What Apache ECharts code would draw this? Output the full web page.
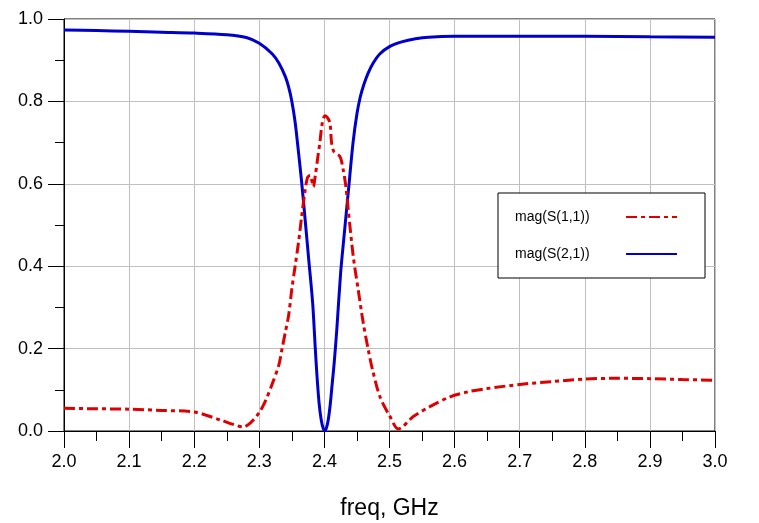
<!DOCTYPE html>
<html>
<head>
<meta charset="utf-8">
<script src="https://cdn.jsdelivr.net/npm/echarts@6/dist/echarts.min.js"></script>
<style>html,body{margin:0;padding:0;background:#fff;}#c{width:759px;height:523px;}</style>
</head>
<body>
<div id="c"></div>
<script>
const xTicks = ['2.0','2.1','2.2','2.3','2.4','2.5','2.6','2.7','2.8','2.9','3.0'];
const yTicks = ['0.0','0.2','0.4','0.6','0.8','1.0'];

const s11Freq = [2.00,2.05,2.10,2.15,2.20,2.24,2.26,2.275,2.286,2.30,2.31,2.32,2.33,2.335,2.34,2.345,2.35,2.355,2.36,2.365,2.370,2.374,2.378,2.383,2.386,2.390,2.393,2.397,2.401,2.405,2.4086,2.411,2.4147,2.424,2.429,2.433,2.4367,2.4444,2.452,2.4598,2.4674,2.474,2.4854,2.5008,2.5136,2.5366,2.562,2.593,2.62,2.65,2.70,2.75,2.80,2.85,2.90,2.95,3.00];
const s11Mag  = [0.055,0.054,0.053,0.050,0.046,0.027,0.016,0.010,0.019,0.045,0.075,0.115,0.16,0.20,0.24,0.28,0.345,0.40,0.455,0.52,0.58,0.615,0.620,0.593,0.62,0.666,0.70,0.75,0.765,0.76,0.747,0.70,0.678,0.666,0.633,0.593,0.536,0.423,0.342,0.261,0.197,0.148,0.083,0.035,0.005,0.035,0.059,0.083,0.095,0.103,0.113,0.120,0.126,0.128,0.127,0.125,0.123];

const s21Freq = [2.00,2.05,2.10,2.15,2.20,2.25,2.28,2.30,2.32,2.33,2.34,2.345,2.35,2.355,2.36,2.365,2.37,2.376,2.382,2.386,2.389,2.392,2.395,2.398,2.4005,2.403,2.406,2.409,2.412,2.415,2.419,2.425,2.43,2.437,2.444,2.45,2.455,2.46,2.467,2.475,2.485,2.50,2.52,2.54,2.56,2.60,2.70,2.80,2.90,3.00];
const s21Mag  = [0.973,0.972,0.970,0.968,0.966,0.962,0.955,0.941,0.915,0.893,0.86,0.835,0.80,0.75,0.68,0.605,0.52,0.415,0.31,0.20,0.125,0.065,0.028,0.007,0.0,0.007,0.028,0.065,0.115,0.165,0.245,0.385,0.47,0.585,0.70,0.77,0.81,0.838,0.868,0.893,0.915,0.933,0.945,0.952,0.956,0.958,0.958,0.958,0.957,0.956];

const zip = (a, b) => a.map((x, i) => [x, b[i]]);
const FONT = 'Liberation Sans, Arial, sans-serif';

const chart = echarts.init(document.getElementById('c'));
chart.setOption({
  animation: false,
  backgroundColor: '#fff',
  grid: { left: 64, right: 44, top: 19, bottom: 92, show: true, borderColor: '#000', borderWidth: 1, backgroundColor: 'transparent', outerBoundsMode: 'none' },
  xAxis: {
    type: 'value', min: 2, max: 3, interval: 0.1,
    name: 'freq, GHz', nameLocation: 'middle', nameGap: 66,
    nameTextStyle: { fontSize: 23, color: '#000', fontFamily: FONT },
    axisLine: { show: true, lineStyle: { color: '#000', width: 1 } },
    axisTick: { show: true, length: 17, inside: false, lineStyle: { color: '#000', width: 1 } },
    minorTick: { show: true, splitNumber: 2, length: 10, lineStyle: { color: '#000', width: 1 } },
    splitLine: { show: true, lineStyle: { color: '#c0c0c0', width: 1 } },
    axisLabel: { margin: 22, fontSize: 18, color: '#000', fontFamily: FONT,
      formatter: v => xTicks[Math.round((v - 2) * 10)] },
  },
  yAxis: {
    type: 'value', min: 0, max: 1, interval: 0.2,
    axisLine: { show: true, lineStyle: { color: '#000', width: 1 } },
    axisTick: { show: true, length: 16, inside: false, lineStyle: { color: '#000', width: 1 } },
    minorTick: { show: true, splitNumber: 2, length: 9, lineStyle: { color: '#000', width: 1 } },
    splitLine: { show: true, lineStyle: { color: '#c0c0c0', width: 1 } },
    axisLabel: { margin: 21, fontSize: 18, color: '#000', fontFamily: FONT,
      formatter: v => yTicks[Math.round(v * 5)] },
  },
  legend: {
    orient: 'vertical', left: 498, top: 193, width: 206, height: 85,
    align: 'right', itemWidth: 51, itemHeight: 14, itemGap: 23,
    padding: [17, 27, 17, 17],
    borderColor: '#000', borderWidth: 1, backgroundColor: '#fff',
    itemStyle: { opacity: 0 },
    textStyle: { fontSize: 14, color: '#000', fontFamily: FONT,
      rich: { a: { width: 106, align: 'left', fontSize: 14, color: '#000', fontFamily: FONT } } },
    formatter: name => '{a|' + name + '}',
    data: ['mag(S(1,1))', 'mag(S(2,1))'],
  },
  series: [
    { name: 'mag(S(1,1))', type: 'line', data: zip(s11Freq, s11Mag), showSymbol: false, symbol: 'none',
      smooth: 0.3,
      lineStyle: { color: '#dd0000', width: 3, type: [11, 4, 4, 4] }, itemStyle: { color: '#dd0000' }, z: 3 },
    { name: 'mag(S(2,1))', type: 'line', data: zip(s21Freq, s21Mag), showSymbol: false, symbol: 'none',
      smooth: 0.3,
      lineStyle: { color: '#0000cc', width: 3 }, itemStyle: { color: '#0000cc' }, z: 2 },
  ],
});
</script>
</body>
</html>
